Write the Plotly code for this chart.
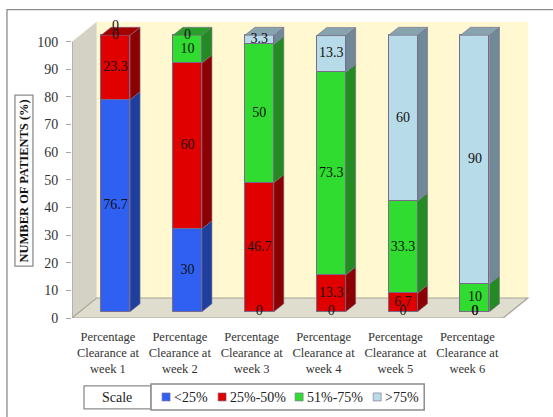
import plotly.graph_objects as go

categories = ["Percentage<br>Clearance at<br>week 1", "Percentage<br>Clearance at<br>week 2",
              "Percentage<br>Clearance at<br>week 3", "Percentage<br>Clearance at<br>week 4",
              "Percentage<br>Clearance at<br>week 5", "Percentage<br>Clearance at<br>week 6"]
series_names = ["<25%", "25%-50%", "51%-75%", ">75%"]
s_lt25 = [76.7, 30, 0, 0, 0, 0]
s_25_50 = [23.3, 60, 46.7, 13.3, 6.7, 0]
s_51_75 = [0, 10, 50, 73.3, 33.3, 10]
s_gt75 = [0, 0, 3.3, 13.3, 60, 90]
series = [s_lt25, s_25_50, s_51_75, s_gt75]
y_ticks = list(range(0, 101, 10))

front = ["#2f60f2", "#e10000", "#30dc30", "#b7dbe8"]
side = ["#1f3f9e", "#8b0000", "#228b22", "#6f8a96"]
topc = ["#25489f", "#a30000", "#2a9e2a", "#87a3ae"]
edge = "#7a6a8a"

W, H = 553, 417
pitch = 431 / 6
uy = 276.5 / 100
x_max, y_max = 5.9, 110
L, B = 72, 318
R = L + (x_max + 0.5) * pitch
T = B - y_max * uy
xs = [i for i in range(6)]
bar_w = 29 / pitch
ox, oy = 7.6 / pitch, 6.3 / uy      # front-face offset from the axis plane
dx, dy = 10 / pitch, 8 / uy         # bar depth
wx, wy = 24.6 / pitch, 20 / uy      # wall depth

fig = go.Figure()

cum = [0.0] * 6
bases = []
for k, vals in enumerate(series):
    bases.append(list(cum))
    fig.add_bar(x=[x + ox for x in xs], y=vals, base=[c + oy for c in cum], width=bar_w,
                name=series_names[k], marker=dict(color=front[k], line=dict(color=edge, width=1)),
                hoverinfo="skip", showlegend=False)
    cum = [c + v for c, v in zip(cum, vals)]

for k, vals in enumerate(series):
    for i in xs:
        if vals[i] <= 0:
            continue
        x1 = i + ox + bar_w / 2
        y0 = bases[k][i] + oy
        y1 = y0 + vals[i]
        fig.add_scatter(x=[x1, x1 + dx, x1 + dx, x1, x1], y=[y0, y0 + dy, y1 + dy, y1, y0],
                        fill="toself", fillcolor=side[k], mode="lines",
                        line=dict(color=edge, width=0.6), showlegend=False, hoverinfo="skip")
        if all(series[j][i] == 0 for j in range(k + 1, 4)):
            x0 = x1 - bar_w
            fig.add_scatter(x=[x0, x1, x1 + dx, x0 + dx, x0], y=[y1, y1, y1 + dy, y1 + dy, y1],
                            fill="toself", fillcolor=topc[k], mode="lines",
                            line=dict(color=edge, width=0.6), showlegend=False, hoverinfo="skip")

lx, ly, lt = [], [], []
for k, vals in enumerate(series):
    for i in xs:
        lx.append(i + ox)
        nudge = 3.2 if (k == 3 and i == 0) else 0
        ly.append(bases[k][i] + oy + vals[i] / 2 + nudge)
        lt.append(str(vals[i]))
fig.add_scatter(x=lx, y=ly, text=lt, mode="text", textposition="middle center",
                textfont=dict(family="Liberation Serif", size=14, color="#111"),
                showlegend=False, hoverinfo="skip", cliponaxis=False)

px = lambda v: (v - L) / (R - L)
py = lambda v: (B - v) / (B - T)
shapes = [
    dict(type="path", xref="x", yref="y", layer="below", line=dict(width=0), fillcolor="#fff8d0",
         path=f"M {-0.5+wx} {wy} L {5.5+wx} {wy} L {5.5+wx} {100+wy} L {-0.5+wx} {100+wy} Z"),
    dict(type="path", xref="x", yref="y", layer="below", line=dict(width=0), fillcolor="#d4d2c5",
         path=f"M -0.5 0 L {-0.5+wx} {wy} L {-0.5+wx} {100+wy} L -0.5 100 Z"),
    dict(type="path", xref="x", yref="y", layer="below", line=dict(color="#a8a69a", width=1.2),
         fillcolor="#dfddcd",
         path=f"M -0.5 0 L 5.5 0 L {5.5+wx} {wy} L {-0.5+wx} {wy} Z"),
    dict(type="line", xref="x", yref="y", x0=-0.5, x1=-0.5, y0=0, y1=100, layer="below",
         line=dict(color="#a8a8a8", width=1.5)),
    dict(type="path", xref="paper", yref="paper", line=dict(color="#8c8c8c", width=1.3),
         path=f"M {px(7)} {py(417)} L {px(7)} {py(9.5)} L {px(553)} {py(9.5)}"),
    dict(type="rect", xref="paper", yref="paper", x0=px(15), x1=px(33), y0=py(266), y1=py(95),
         line=dict(color="#8c8c8c", width=1.3), fillcolor="white", layer="below"),
    dict(type="rect", xref="paper", yref="paper", x0=px(84), x1=px(151), y0=py(409), y1=py(386),
         line=dict(color="#8c8c8c", width=1.3), fillcolor="white"),
    dict(type="rect", xref="paper", yref="paper", x0=px(151), x1=px(424), y0=py(410), y1=py(384),
         line=dict(color="#8c8c8c", width=1.5), fillcolor="white"),
]
annotations = [
    dict(text="<b>NUMBER OF PATIENTS (%)</b>", xref="paper", yref="paper", x=px(24), y=py(180.5),
         xanchor="center", yanchor="middle", textangle=-90, showarrow=False,
         font=dict(family="Liberation Serif", size=12.5, color="#111")),
    dict(text="Scale", xref="paper", yref="paper", x=px(117), y=py(398), showarrow=False,
         xanchor="center", yanchor="middle",
         font=dict(family="Liberation Serif", size=14, color="#222")),
]
swatch_left = [162, 218, 295, 373]
for k, nm in enumerate(series_names):
    s = swatch_left[k]
    shapes.append(dict(type="rect", xref="paper", yref="paper", x0=px(s), x1=px(s + 8),
                       y0=py(401), y1=py(393), fillcolor=front[k], line=dict(color=edge, width=0.6)))
    annotations.append(dict(text=nm, xref="paper", yref="paper", x=px(s + 10), y=py(397.5),
                            xanchor="left", yanchor="middle", showarrow=False,
                            font=dict(family="Liberation Serif", size=14, color="#222")))

fig.update_layout(
    width=W, height=H, autosize=False, barmode="overlay", bargap=0, showlegend=False,
    margin=dict(l=L, r=W - R, t=T, b=H - B, pad=0, autoexpand=False),
    paper_bgcolor="white", plot_bgcolor="rgba(0,0,0,0)",
    shapes=shapes, annotations=annotations,
    font=dict(family="Liberation Serif", color="#333"),
    xaxis=dict(range=[-0.5, x_max], tickmode="array", tickvals=xs, ticktext=categories,
               showgrid=False, zeroline=False, ticks="", showline=False, automargin=False,
               ticklabelstandoff=9,
               tickfont=dict(family="Liberation Serif", size=12.5, color="#333"), tickangle=0),
    yaxis=dict(range=[0, y_max], tickmode="array", tickvals=y_ticks, showgrid=False, zeroline=False,
               showline=False, ticks="outside", ticklen=5, ticklabelstandoff=5,
               automargin=False, tickcolor="#a8a8a8",
               tickfont=dict(family="Liberation Serif", size=14, color="#333")),
)
fig.write_html("out.html", post_script="document.body.style.margin='0';",
               config={"displayModeBar": False})
